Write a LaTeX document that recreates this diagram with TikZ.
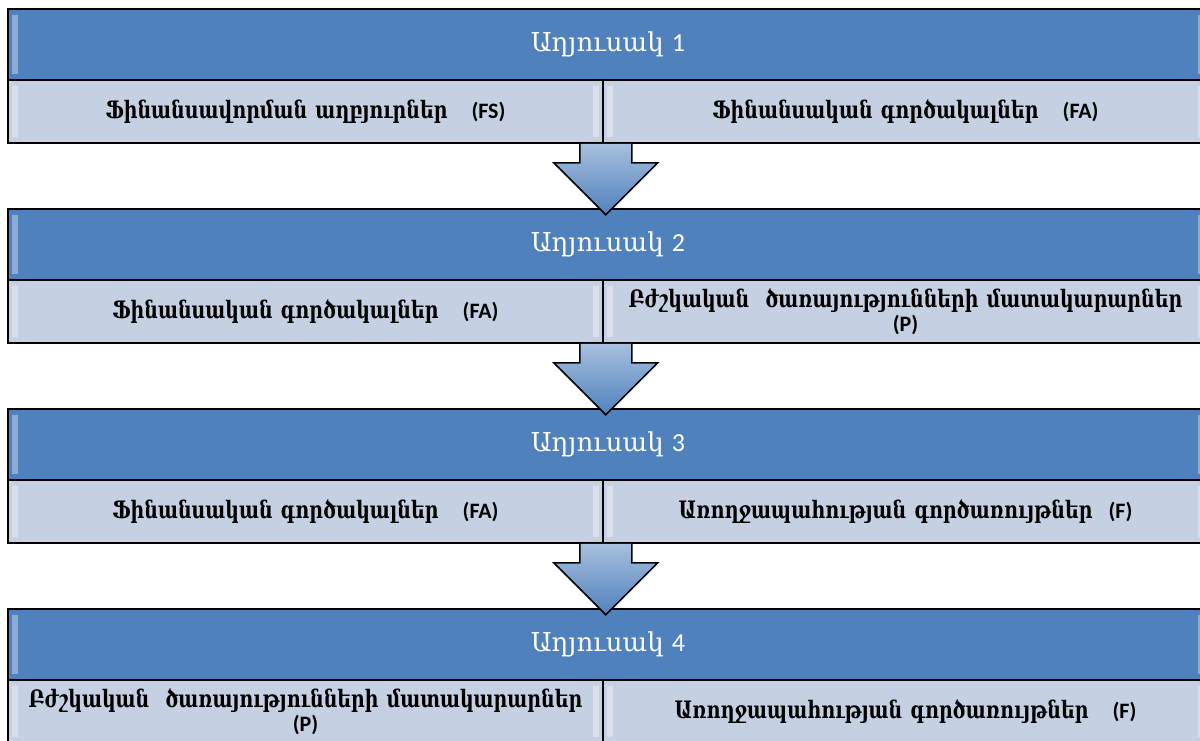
\documentclass[tikz,border=0pt]{standalone}
\usepackage{fontspec}
\setmainfont{DejaVu Serif}
\newfontfamily\armfont{DejaVu Serif}[FakeStretch=0.79]
\newfontfamily\latinfont{Carlito}
\usetikzlibrary{positioning, shadows}
\definecolor{hdblue}{HTML}{4F81BD}
\definecolor{cellblue}{HTML}{C5D0E3}
\tikzset{bevel/.style={path picture={
           \fill[white,opacity=.35] ([xshift=2pt,yshift=-3pt]path picture bounding box.north west)
             rectangle ([xshift=5pt,yshift=3pt]path picture bounding box.south west);
           \fill[white,opacity=.35] ([xshift=-2pt,yshift=-3pt]path picture bounding box.north east)
             rectangle ([xshift=-5pt,yshift=3pt]path picture bounding box.south east);}},
         header/.style={draw,line width=0.8pt,fill=hdblue,text=white,bevel,inner sep=0pt,
           minimum width=600pt,minimum height=35.5pt,font=\fontsize{13}{15}\selectfont,
           drop shadow={shadow xshift=1pt,shadow yshift=-1pt,opacity=.3}},
         cell/.style={draw,line width=0.8pt,fill=cellblue,bevel,inner sep=0pt,align=center,
           minimum height=31.5pt,font=\armfont\bfseries\fontsize{12}{12}\selectfont},
         lcell/.style={cell,minimum width=297.5pt,text width=295pt},
         rcell/.style={cell,minimum width=302.5pt,text width=300pt},
         bigarrow/.style={draw,line width=0.8pt,top color=hdblue!50!white,bottom color=hdblue}}
\newcommand{\abbr}[1]{{\latinfont\bfseries\fontsize{11}{12}\selectfont #1}}

\begin{document}
\begin{tikzpicture}[x=0.5pt,y=-0.5pt]
        \useasboundingbox (0,0) rectangle (1200,740);

        \node[header](h1)at(608,44.5){Աղյուսակ \latinfont 1};
        \node[lcell](c1l)at(305.5,111.5){Ֆինանսավորման աղբյուրներ \ \ \abbr{(FS)}};
        \node[rcell](c1r)at(905.5,111.5){Ֆինանսական գործակալներ \ \ \abbr{(FA)}};

        \node[header](h2)at(608,244.5){Աղյուսակ \latinfont 2};
        \node[lcell](c2l)at(305.5,311.5){Ֆինանսական գործակալներ \ \ \abbr{(FA)}};
        \node[rcell](c2r)at(905.5,311.5){Բժշկական \ ծառայությունների մատակարարներ\\\abbr{(P)}};

        \node[header](h3)at(608,444.5){Աղյուսակ \latinfont 3};
        \node[lcell](c3l)at(305.5,511.5){Ֆինանսական գործակալներ \ \ \abbr{(FA)}};
        \node[rcell](c3r)at(905.5,511.5){Առողջապահության գործառույթներ \ \abbr{(F)}};

        \node[header](h4)at(608,644.5){Աղյուսակ \latinfont 4};
        \node[lcell](c4l)at(305.5,711.5){Բժշկական \ ծառայությունների մատակարարներ\\\abbr{(P)}};
        \node[rcell](c4r)at(905.5,711.5){Առողջապահության գործառույթներ \ \ \abbr{(F)}};

        \coordinate(a1)at([xshift=1pt]c1l.south east);
        \coordinate(a2)at([xshift=1pt]c2l.south east);
        \coordinate(a3)at([xshift=1pt]c3l.south east);

        \draw[bigarrow](a1)++(-13pt,0)--++(0,-9.5pt)--++(-13pt,0)--++(26pt,-26pt)--++(26pt,26pt)--++(-13pt,0)--++(0,9.5pt);
        \draw[bigarrow](a2)++(-13pt,0)--++(0,-9.5pt)--++(-13pt,0)--++(26pt,-26pt)--++(26pt,26pt)--++(-13pt,0)--++(0,9.5pt);
        \draw[bigarrow](a3)++(-13pt,0)--++(0,-9.5pt)--++(-13pt,0)--++(26pt,-26pt)--++(26pt,26pt)--++(-13pt,0)--++(0,9.5pt);
    \end{tikzpicture}
\end{document}
